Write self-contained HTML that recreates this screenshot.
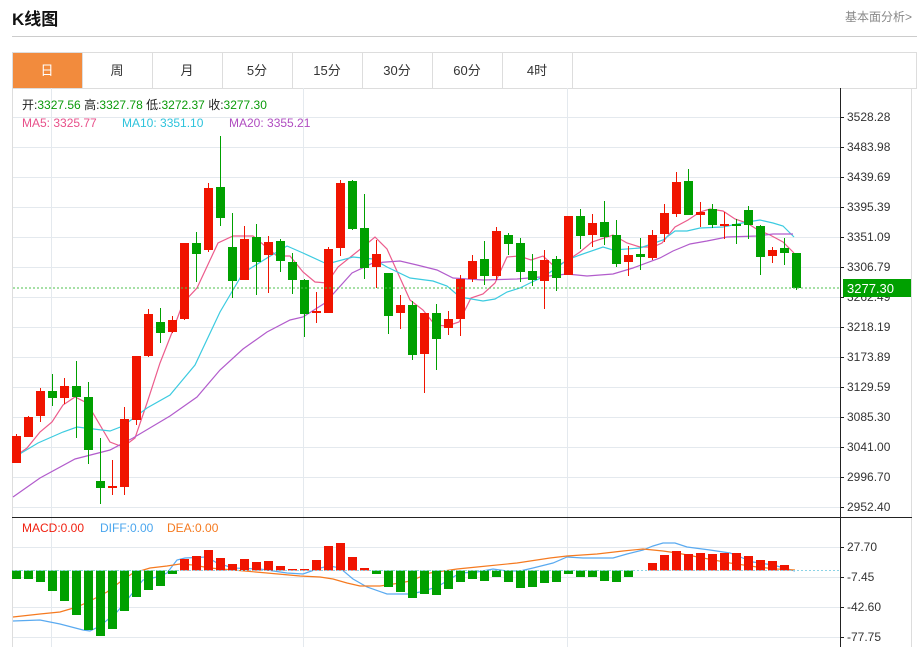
<!DOCTYPE html>
<html><head><meta charset="utf-8"><style>
html,body{margin:0;padding:0;background:#fff;width:917px;height:647px;overflow:hidden}
body{font-family:"Liberation Sans","Noto Sans CJK SC",sans-serif;position:relative}
.t{position:absolute;white-space:nowrap}
</style></head><body>
<div class="t" style="left:12px;top:5px;font-size:17px;font-weight:bold;color:#111">K线图</div>
<div class="t" style="left:845px;top:8px;font-size:12px;color:#888">基本面分析&gt;</div>
<div style="position:absolute;left:12px;top:36px;width:905px;height:1px;background:#ccc"></div>
<svg id="s" width="917" height="647" style="position:absolute;left:0;top:0" xmlns="http://www.w3.org/2000/svg" font-family="Liberation Sans, Noto Sans CJK SC, sans-serif">
<rect x="12.5" y="52.5" width="904" height="36" fill="#fff" stroke="#ddd"/>
<rect x="13" y="53" width="69" height="35" fill="#f28b3d"/>
<g stroke="#ddd"><line x1="82.5" y1="52" x2="82.5" y2="88"/><line x1="152.5" y1="52" x2="152.5" y2="88"/><line x1="222.5" y1="52" x2="222.5" y2="88"/><line x1="292.5" y1="52" x2="292.5" y2="88"/><line x1="362.5" y1="52" x2="362.5" y2="88"/><line x1="432.5" y1="52" x2="432.5" y2="88"/><line x1="502.5" y1="52" x2="502.5" y2="88"/><line x1="572.5" y1="52" x2="572.5" y2="88"/></g>
<g font-size="13" text-anchor="middle" fill="#333"><text x="47" y="75" fill="#fff">日</text><text x="117" y="75">周</text><text x="187" y="75">月</text><text x="257" y="75">5分</text><text x="327" y="75">15分</text><text x="397" y="75">30分</text><text x="467" y="75">60分</text><text x="537" y="75">4时</text></g>
<line x1="12.5" y1="88" x2="12.5" y2="647" stroke="#ddd"/>
<line x1="911.5" y1="88" x2="911.5" y2="647" stroke="#ddd"/>
<g id="grid" stroke="#e4e9ee" stroke-width="1"></g>
<line x1="840.5" y1="88" x2="840.5" y2="647" stroke="#222"/>
<line x1="12" y1="517.5" x2="912" y2="517.5" stroke="#222"/>
<g id="ticks" stroke="#222"></g>
<g font-size="12" fill="#333">
<text x="847" y="121">3528.28</text><text x="847" y="151">3483.98</text><text x="847" y="181">3439.69</text><text x="847" y="211">3395.39</text><text x="847" y="241">3351.09</text><text x="847" y="271">3306.79</text><text x="847" y="301">3262.49</text><text x="847" y="331">3218.19</text><text x="847" y="361">3173.89</text><text x="847" y="391">3129.59</text><text x="847" y="421">3085.30</text><text x="847" y="451">3041.00</text><text x="847" y="481">2996.70</text><text x="847" y="511">2952.40</text>
<text x="847" y="551">27.70</text><text x="847" y="581">-7.45</text><text x="847" y="611">-42.60</text><text x="847" y="641">-77.75</text>
</g>
<g id="lines" fill="none"></g>
<g id="candles"></g>
<line x1="13" y1="288" x2="840" y2="288" stroke="#4cc04c" stroke-dasharray="2,2"/>
<line x1="13" y1="570.5" x2="840" y2="570.5" stroke="#8cd3e6" stroke-dasharray="2,2"/>
<rect x="843" y="279" width="68" height="18" fill="#00a000"/>
<text x="847" y="293" font-size="13" fill="#fff">3277.30</text>
<g font-size="12">
<text x="22" y="109" fill="#222">开:<tspan fill="#0a9a0a">3327.56</tspan>  高:<tspan fill="#0a9a0a">3327.78</tspan>  低:<tspan fill="#0a9a0a">3272.37</tspan>  收:<tspan fill="#0a9a0a">3277.30</tspan></text>
<text x="22" y="127" fill="#e8508a">MA5: 3325.77</text><text x="122" y="127" fill="#2ec3dc">MA10: 3351.10</text><text x="229" y="127" fill="#b04cc0">MA20: 3355.21</text>
<text x="22" y="532" fill="#f02010">MACD:0.00</text><text x="100" y="532" fill="#4aa6ee">DIFF:0.00</text><text x="167" y="532" fill="#f57a20">DEA:0.00</text>
</g>
</svg>
<script>
var NS="http://www.w3.org/2000/svg";
function el(p,n,a){var e=document.createElementNS(NS,n);for(var k in a)e.setAttribute(k,a[k]);document.getElementById(p).appendChild(e);return e;}
[117,147,177,207,237,267,297,327,357,387,417,447,477,507,547,577,607,637].forEach(function(y){el('grid','line',{x1:13,x2:840,y1:y+.5,y2:y+.5});el('ticks','line',{x1:840,x2:844,y1:y+.5,y2:y+.5});});
[51,303,567].forEach(function(x){el('grid','line',{x1:x+.5,x2:x+.5,y1:88,y2:647});});
var C=[['r',436,463,434,463],['r',417,437,416,437],['r',391,416,388,422],['g',391,398,374,406],['r',386,398,378,404],['g',386,397,361,438],['g',397,450,382,464],['g',481,488,438,504],['r',486,488,460,495],['r',419,487,407,495],['r',356,420,356,425],['r',314,356,309,357],['g',322,333,308,343],['r',320,332,316,333],['r',243,319,243,320],['g',243,254,232,282],['r',188,250,183,252],['g',187,218,136,226],['g',247,281,213,298],['r',239,280,226,280],['g',237,262,224,295],['r',242,255,236,293],['g',241,261,239,272],['g',262,280,253,294],['g',280,314,279,337],['r',311,313,292,323],['r',249,313,247,313],['r',183,248,180,256],['g',181,229,180,230],['g',228,268,194,279],['r',254,267,240,288],['g',273,316,273,334],['r',305,313,295,329],['g',305,355,301,360],['r',313,354,313,393],['g',313,339,304,370],['r',319,328,311,335],['r',279,319,275,336],['r',261,279,255,282],['g',259,276,241,285],['r',231,276,227,280],['g',235,244,233,255],['g',243,272,238,282],['g',271,280,254,286],['r',260,281,250,309],['g',259,278,256,291],['r',216,275,216,275],['g',216,236,209,249],['r',223,235,214,247],['g',222,237,201,245],['g',235,264,220,267],['r',255,262,246,276],['g',254,257,238,270],['r',235,258,230,260],['r',213,234,204,242],['r',182,214,172,217],['g',181,215,169,215],['r',212,215,202,227],['g',209,225,204,228],['r',224,226,212,239],['g',224,226,219,244],['g',210,225,206,239],['g',226,257,225,275],['r',250,256,247,263],['g',248,253,238,265],['g',253,288,253,290]];
var H=[579,579,582,591,601,615,630,636,629,611,597,590,586,574,559,556,550,558,564,559,562,561,566,569,569,560,546,543,557,568,574,587,592,598,594,595,589,582,579,581,577,582,588,587,583,582,574,577,577,581,582,577,571,563,555,551,554,553,554,553,553,556,560,561,565,570];
for(var i=0;i<66;i++){var cx=16+12*i,c=C[i],col=c[0]=='r'?'#f01400':'#00a000';
el('candles','line',{x1:cx+.5,x2:cx+.5,y1:c[3],y2:c[4],stroke:col});
el('candles','rect',{x:cx-4,y:c[1],width:9,height:Math.max(1,c[2]-c[1]),fill:col});
var h=H[i],z=570.5;if(Math.abs(h-z)>0.6){var up=h<z;el('candles','rect',{x:cx-4,y:Math.min(h,z),width:9,height:Math.abs(h-z),fill:up?'#f01400':'#00a000'});}}
function L(pts,col){el('lines','polyline',{points:pts,stroke:col,'stroke-width':1.2});}
L("13,458 27,448 40,432 52,422 63,405 75,397 87,403 110,442 123,447 135,438 147,403 160,363 173,330 183,303 197,288 218,243 233,236 253,236 277,256 290,256 303,272 315,282 327,283 338,267 363,247 375,237 387,249 410,300 423,310 435,325 447,326 459,322 471,298 483,294 495,283 507,257 519,256 531,260 543,256 555,267 568,260 580,252 592,242 613,235 627,243 640,247 653,247 662,243 675,227 688,220 700,212 710,209 723,211 735,219 747,223 758,230 770,235 783,242 794,253","#ec5c8c");
L("13,458 38,443 63,432 77,427 110,431 123,426 147,408 170,395 195,365 220,312 243,273 267,258 287,246 303,253 327,264 353,257 373,259 387,267 410,278 433,281 447,286 460,297 483,301 495,299 507,292 520,288 532,282 543,277 555,269 567,260 580,255 603,247 613,250 640,248 663,240 675,231 687,231 700,228 723,227 747,222 760,220 773,223 783,226 794,237","#3ccbe0");
L("13,497 40,478 75,459 110,450 133,438 170,416 197,397 220,370 243,349 267,332 290,320 303,317 325,303 352,273 373,263 400,261 417,265 437,270 453,278 483,280 517,279 540,277 567,274 587,276 613,274 633,268 660,258 673,251 690,244 707,241 727,237 757,236 773,234 793,234","#b25ccc");
L("13,621 40,620 60,624 83,630 90,631 100,626 117,612 127,600 143,580 157,577 167,573 177,560 185,558 207,557 217,563 233,568 260,569 287,573 303,574 320,568 330,566 340,568 353,579 367,587 387,594 410,594 420,592 437,587 460,573 477,572 493,569 507,571 520,571 533,568 553,563 567,557 583,558 613,558 627,554 643,550 653,546 663,543 675,543 687,547 710,550 730,553 753,562 773,565 795,571","#5aaaf0");
L("13,617 40,614 60,612 77,607 90,601 107,592 120,582 133,573 150,568 167,566 180,564 193,565 210,568 233,570 267,573 300,576 320,577 333,579 347,583 360,586 380,586 400,583 410,581 430,573 457,569 477,567 517,563 550,558 567,556 597,554 623,551 643,549 663,551 677,553 703,558 730,563 757,567 777,569 795,570","#f57a20");
</script>
</body></html>
